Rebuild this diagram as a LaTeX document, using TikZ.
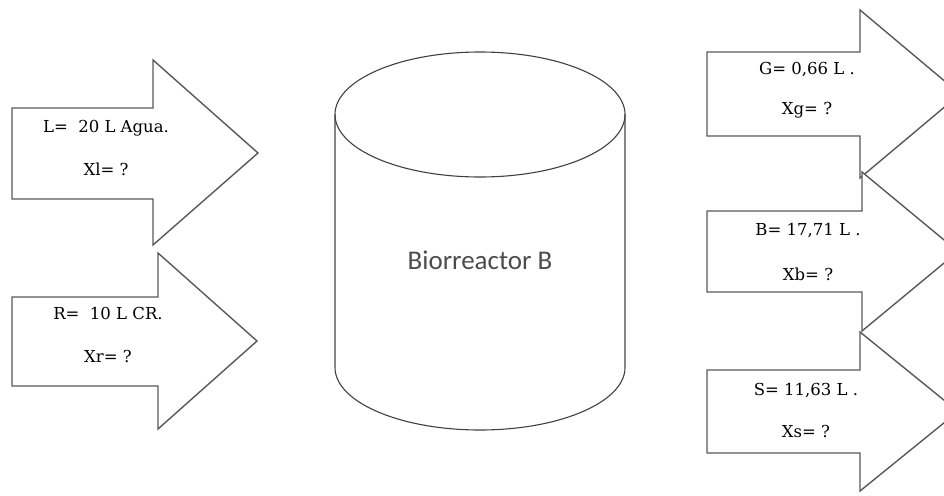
\documentclass[tikz,border=0pt]{standalone}
\usepackage{fontspec}
\setmainfont{DejaVu Serif}
\newfontfamily\carlito{Carlito}
\usepackage{tikz}
\usetikzlibrary{positioning}
\tikzstyle{flecha} = [draw=black!65, line width=1.4pt, fill=white]
\tikzstyle{dato} = [font=\fontsize{16.5}{19}\selectfont, text=black, inner sep=0pt]
\tikzstyle{tanque} = [draw=black!75, line width=1.1pt]

\begin{document}
\begin{tikzpicture}[x=1pt, y=-1pt]
\clip (0,0) rectangle (944,495);
% entradas
\draw [flecha] (12,108) -- (153,108) -- (153,60) -- (258,153) -- (153,245) -- (153,199) -- (12,199) -- cycle;
\draw [flecha] (12,297) -- (158,297) -- (158,253) -- (257,341) -- (158,429) -- (158,386) -- (12,386) -- cycle;
% salidas
\draw [flecha] (707,52) -- (860,52) -- (860,10) -- (960,94) -- (860,178) -- (860,136) -- (707,136) -- cycle;
\draw [flecha] (707,211) -- (862,211) -- (862,172) -- (958,251.5) -- (862,331) -- (862,292) -- (707,292) -- cycle;
\draw [flecha] (707,370) -- (860,370) -- (860,332) -- (958,411.5) -- (860,491) -- (860,453) -- (707,453) -- cycle;

% biorreactor
\draw [tanque] (480,114.5) ellipse [x radius=145, y radius=62.5];
\draw [tanque] (335,114.5) -- (335,367.5) arc [start angle=180, end angle=0, x radius=145, y radius=62.5] -- (625,114.5);
\node (bio) at (480,260) [font=\carlito\fontsize{27}{31}\selectfont, text=black!70] {Biorreactor B};

\node (lin) at (106,128) [dato] {L=\ \ 20 L Agua.};
\node (lx) [dato, below=27pt of lin] {Xl= ?};
\node (rin) at (108,313) [dato] {R=\ \ 10 L CR.};
\node (rx) [dato, below=31pt of rin] {Xr= ?};
\node (gout) at (807,70) [dato] {G= 0,66 L .};
\node (gx) [dato, below=25pt of gout] {Xg= ?};
\node (bout) at (808,230) [dato] {B= 17,71 L .};
\node (bx) [dato, below=30pt of bout] {Xb= ?};
\node (sout) at (806,390) [dato] {S= 11,63 L .};
\node (sx) [dato, below=28pt of sout] {Xs= ?};
\end{tikzpicture}
\end{document}
